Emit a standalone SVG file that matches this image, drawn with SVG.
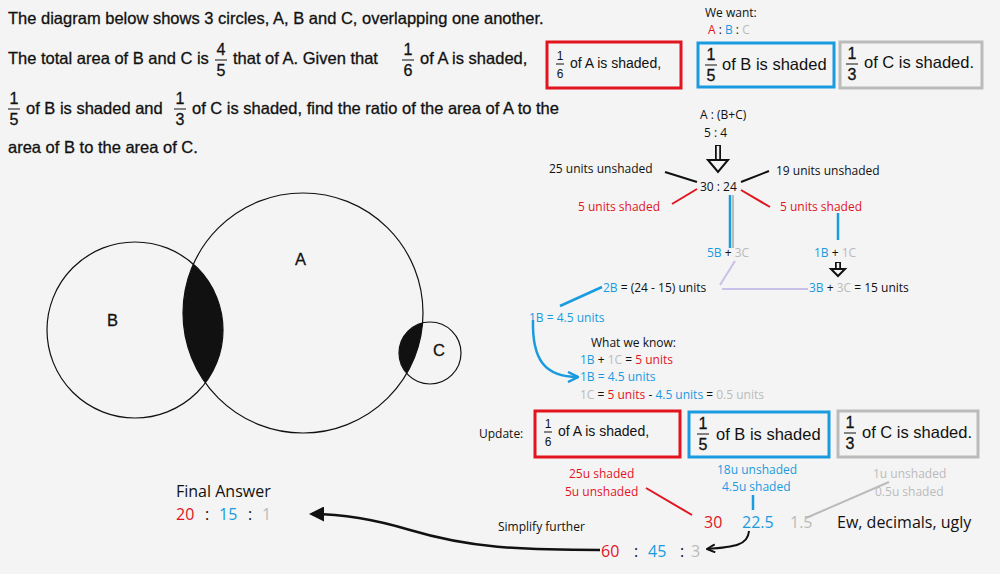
<svg xmlns="http://www.w3.org/2000/svg" width="1000" height="574" viewBox="0 0 1000 574">
<style>
.q{font-family:"Liberation Sans",Arial,sans-serif;font-size:16.5px;fill:#111;stroke:#111;stroke-width:0.3}
.f{font-family:"Liberation Sans",Arial,sans-serif;font-size:16px;fill:#111;text-anchor:middle;stroke:#111;stroke-width:0.3}
.fs{font-family:"Liberation Sans",Arial,sans-serif;font-size:12px;fill:#111;text-anchor:middle}
.bx{font-family:"Liberation Sans",Arial,sans-serif;fill:#111}
.t{font-family:"Open Sans","Liberation Sans",sans-serif;font-size:12px;fill:#111}
.big{font-family:"Open Sans","Liberation Sans",sans-serif;font-size:16px;fill:#111}
.r{fill:#e2141f}.b{fill:#1a9be0}.g{fill:#bbb}.k{fill:#111}
.circ{fill:none;stroke:#111;stroke-width:1.2}
.box{fill:none;stroke-width:3}
</style>
<defs>
<clipPath id="cA"><circle cx="303" cy="313" r="120"/></clipPath>
<marker id="ah" viewBox="0 0 10 10" refX="8" refY="5" markerWidth="6" markerHeight="6" orient="auto"><path d="M0,0L10,5L0,10z" fill="#111"/></marker>
<marker id="ao" viewBox="0 0 10 10" refX="9" refY="5" markerWidth="5" markerHeight="5" orient="auto"><path d="M1,1L9,5L1,9" fill="none" stroke="#111" stroke-width="2"/></marker>
<marker id="aob" viewBox="0 0 10 10" refX="9" refY="5" markerWidth="5" markerHeight="5" orient="auto"><path d="M1,1L9,5L1,9" fill="none" stroke="#1a9be0" stroke-width="2"/></marker>
</defs>
<rect width="1000" height="574" fill="#f4f4f4"/>

<g id="question">
<text class="q" x="8" y="24">The diagram below shows 3 circles, A, B and C, overlapping one another.</text>
<text class="q" x="8" y="64">The total area of B and C is</text>
<text class="f" x="221" y="55">4</text><line x1="215" y1="60" x2="227" y2="60" stroke="#111"/><text class="f" x="221" y="76">5</text>
<text class="q" x="233" y="64">that of A.  Given that</text>
<text class="f" x="408" y="55">1</text><line x1="402" y1="60" x2="414" y2="60" stroke="#111"/><text class="f" x="408" y="76">6</text>
<text class="q" x="420" y="64">of A is shaded,</text>
<text class="f" x="14" y="104">1</text><line x1="8" y1="109" x2="20" y2="109" stroke="#111"/><text class="f" x="14" y="125">5</text>
<text class="q" x="26" y="114">of B is shaded and</text>
<text class="f" x="180" y="104">1</text><line x1="174" y1="109" x2="186" y2="109" stroke="#111"/><text class="f" x="180" y="125">3</text>
<text class="q" x="192" y="114">of C is shaded, find the ratio of the area of A to the</text>
<text class="q" x="8" y="153">area of B to the area of C.</text>
</g>

<g id="circles">
<circle cx="135" cy="330" r="88" fill="#111" clip-path="url(#cA)"/>
<circle cx="430" cy="353" r="31" fill="#111" clip-path="url(#cA)"/>
<circle class="circ" cx="135" cy="330" r="88"/>
<circle class="circ" cx="303" cy="313" r="120"/>
<circle class="circ" cx="430" cy="353" r="31"/>
<text class="q" x="107" y="326">B</text>
<text class="q" x="295" y="265">A</text>
<text class="q" x="433" y="356">C</text>
</g>

<g id="want">
<text class="t" x="705" y="17">We want:</text>
<text class="t" x="708" y="34"><tspan class="r">A</tspan> : <tspan class="b">B</tspan> : <tspan class="g">C</tspan></text>
</g>

<g id="boxes-top">
<rect class="box" x="547" y="42" width="134" height="46" stroke="#e2141f"/>
<text class="fs" x="560" y="60">1</text><line x1="556" y1="64" x2="564" y2="64" stroke="#111"/><text class="fs" x="560" y="78">6</text>
<text class="bx" x="570" y="68" font-size="14">of A is shaded,</text>
<rect class="box" x="698" y="43" width="136" height="44" stroke="#1a9be0"/>
<text class="f" x="711" y="60" font-size="17">1</text><line x1="705" y1="65" x2="717" y2="65" stroke="#111"/><text class="f" x="711" y="81" font-size="17">5</text>
<text class="bx" x="722" y="70" font-size="16.5">of B is shaded</text>
<rect class="box" x="840" y="42" width="142" height="46" stroke="#bbb"/>
<text class="f" x="852" y="59" font-size="17">1</text><line x1="846" y1="64" x2="858" y2="64" stroke="#111"/><text class="f" x="852" y="80" font-size="17">3</text>
<text class="bx" x="864" y="68" font-size="16.5">of C is shaded.</text>
</g>

<g id="ratio">
<text class="t" x="700" y="119">A : (B+C)</text>
<text class="t" x="704" y="137">5 : 4</text>
<text class="t" x="549" y="173">25 units unshaded</text>
<text class="t" x="776" y="175">19 units unshaded</text>
<text class="t" x="700" y="191">30 : 24</text>
<text class="t r" x="578" y="211">5 units shaded</text>
<text class="t r" x="780" y="211">5 units shaded</text>
<text class="t" x="707" y="257"><tspan class="b">5B</tspan> + <tspan class="g">3C</tspan></text>
<text class="t" x="814" y="257"><tspan class="b">1B</tspan> + <tspan class="g">1C</tspan></text>
<text class="t" x="603" y="292"><tspan class="b">2B</tspan> = (24 - 15) units</text>
<text class="t" x="809" y="292"><tspan class="b">3B</tspan> + <tspan class="g">3C</tspan> = 15 units</text>
<text class="t b" x="529" y="322">1B = 4.5 units</text>
<text class="t" x="591" y="347">What we know:</text>
<text class="t" x="580" y="364"><tspan class="b">1B</tspan> + <tspan class="g">1C</tspan> = <tspan class="r">5 units</tspan></text>
<text class="t b" x="580" y="381">1B = 4.5 units</text>
<text class="t" x="580" y="399"><tspan class="g">1C</tspan> = <tspan class="r">5 units</tspan> - <tspan class="b">4.5 units</tspan> = <tspan class="g">0.5 units</tspan></text>
</g>

<g id="update">
<text class="t" x="479" y="438">Update:</text>
<rect class="box" x="535" y="411" width="145" height="46" stroke="#e2141f"/>
<text class="fs" x="548" y="428">1</text><line x1="544" y1="432" x2="552" y2="432" stroke="#111"/><text class="fs" x="548" y="446">6</text>
<text class="bx" x="558" y="436" font-size="14">of A is shaded,</text>
<rect class="box" x="689" y="412" width="140" height="45" stroke="#1a9be0"/>
<text class="f" x="703" y="429" font-size="17">1</text><line x1="697" y1="434" x2="709" y2="434" stroke="#111"/><text class="f" x="703" y="450" font-size="17">5</text>
<text class="bx" x="716" y="440" font-size="16.5">of B is shaded</text>
<rect class="box" x="838" y="411" width="140" height="46" stroke="#bbb"/>
<text class="f" x="850" y="428" font-size="17">1</text><line x1="844" y1="433" x2="856" y2="433" stroke="#111"/><text class="f" x="850" y="449" font-size="17">3</text>
<text class="bx" x="862" y="438" font-size="16.5">of C is shaded.</text>
<text class="t r" x="569" y="478">25u shaded</text>
<text class="t r" x="565" y="496">5u unshaded</text>
<text class="t b" x="717" y="474">18u unshaded</text>
<text class="t b" x="722" y="491">4.5u shaded</text>
<text class="t g" x="873" y="478">1u unshaded</text>
<text class="t g" x="875" y="496">0.5u shaded</text>
<text class="big r" x="704" y="528">30</text>
<text class="big b" x="742" y="528">22.5</text>
<text class="big g" x="790" y="528">1.5</text>
<text class="big" x="837" y="528">Ew, decimals, ugly</text>
<text class="t" x="498" y="531">Simplify further</text>
<text class="big r" x="601" y="557">60</text><text class="big" x="634" y="557">:</text><text class="big b" x="648" y="557">45</text><text class="big" x="680" y="557">:</text><text class="big g" x="691" y="557">3</text>
<text class="big" x="176" y="497">Final Answer</text>
<text class="big r" x="176" y="520">20</text><text class="big" x="205" y="520">:</text><text class="big b" x="219" y="520">15</text><text class="big" x="248" y="520">:</text><text class="big g" x="262" y="520">1</text>
</g>

<g id="connectors" fill="none" stroke-width="2">
<path d="M718,145V164" stroke="#111" stroke-width="6"/>
<path d="M718,146V165" stroke="#f4f4f4" stroke-width="2.5"/>
<path d="M708,160L718,172L728,160Z" fill="#f4f4f4" stroke="#111" stroke-width="2"/>
<path d="M838,262V269" stroke="#111" stroke-width="6"/>
<path d="M838,263V270" stroke="#f4f4f4" stroke-width="2.5"/>
<path d="M831,269L838,276L845,269Z" fill="#f4f4f4" stroke="#111" stroke-width="2"/>
<path d="M665,172L697,182M741,182L769,171" stroke="#111"/>
<path d="M697,189L672,204M741,190L770,207" stroke="#e2141f"/>
<path d="M730,195V248M838,213V240" stroke="#1a9be0" stroke-width="2.5"/>
<path d="M733,195V248" stroke="#bbb" stroke-width="2"/>
<path d="M735,261L720,285M722,289H808" stroke="#c8c0e6" stroke-width="2"/>
<path d="M560,306L602,287" stroke="#1a9be0" stroke-width="2.5"/>
<path d="M533,320C532,360 545,377 578,377" stroke="#1a9be0" stroke-width="2.5" marker-end="url(#aob)"/>
<path d="M646,488L692,515" stroke="#e2141f"/>
<path d="M753,495V510" stroke="#1a9be0" stroke-width="2.5"/>
<path d="M889,482L806,518" stroke="#bbb"/>
<path d="M749,531C748,545 735,547 707,549" stroke="#111" marker-end="url(#ao)"/>
<path d="M600,550C520,550 470,548 410,530C370,518 340,514 312,514" stroke="#111" stroke-width="2.5" marker-end="url(#ah)"/>
</g>
</svg>
